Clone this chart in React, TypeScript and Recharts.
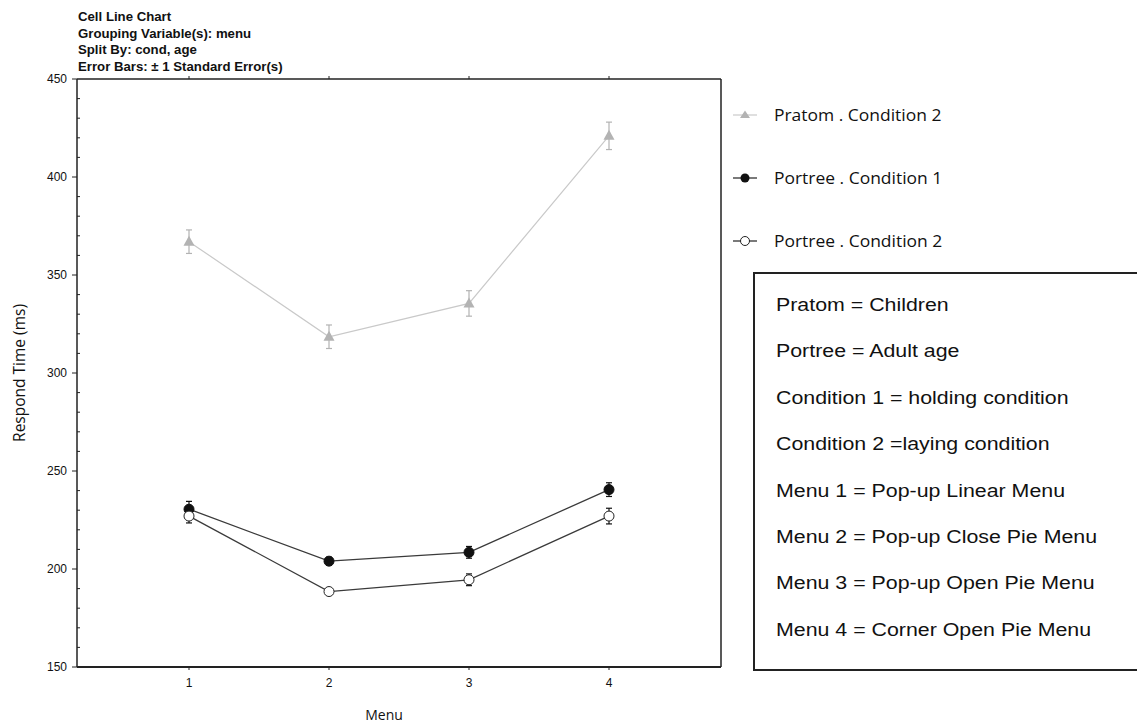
import { ComposedChart, Line, XAxis, YAxis, ErrorBar, Label } from "recharts"

// menu index on the x axis
const menus = [1, 2, 3, 4]

// mean respond time (ms) and standard error, per group
const pratomCond2 = [367, 318.5, 335.5, 421]
const pratomCond2Se = [6, 6, 6.5, 7]
const portreeCond1 = [230.5, 204, 208.5, 240.5]
const portreeCond1Se = [4, 2, 3, 3.5]
const portreeCond2 = [227, 188.5, 194.5, 227]
const portreeCond2Se = [3.5, 1.5, 3, 4]

const yLabels = [150, 200, 250, 300, 350, 400, 450]

const titleLines = [
  "Cell Line Chart",
  "Grouping Variable(s): menu",
  "Split By: cond, age",
  "Error Bars: ± 1 Standard Error(s)",
]

const legendNames = ["Pratom . Condition 2", "Portree . Condition 1", "Portree . Condition 2"]

const notes = [
  "Pratom = Children",
  "Portree = Adult age",
  "Condition 1 = holding condition",
  "Condition 2 =laying condition",
  "Menu 1 = Pop-up Linear Menu",
  "Menu 2 = Pop-up Close Pie Menu",
  "Menu 3 = Pop-up Open Pie Menu",
  "Menu 4 = Corner Open Pie Menu",
]

const data = menus.map((m, i) => ({
  menu: m,
  pratom: pratomCond2[i],
  pratomSe: pratomCond2Se[i],
  portree1: portreeCond1[i],
  portree1Se: portreeCond1Se[i],
  portree2: portreeCond2[i],
  portree2Se: portreeCond2Se[i],
}))

// every 10 ms gets a small tick, labels only on the 50s
const minorTicks: number[] = []
for (let v = 150; v <= 450; v += 10) minorTicks.push(v)

const AXIS = "#222"
const GREY_LINE = "#c9c9c9"
const GREY_MARK = "#b3b3b3"
const DARK_LINE = "#3a3a3a"
const tickFont = "'Liberation Sans', Arial, sans-serif"

const LeftTick = (props: any) => {
  const { x, y, payload } = props
  const major = yLabels.includes(payload.value)
  return (
    <g>
      {major ? (
        <>
          <line x1={x - 5} y1={y} x2={x} y2={y} stroke={AXIS} />
          <text x={x - 10} y={y} dy={4} textAnchor="end" fontSize={12} fontFamily={tickFont} fill="#111">
            {payload.value}
          </text>
        </>
      ) : (
        <line x1={x} y1={y} x2={x + 3} y2={y} stroke={AXIS} />
      )}
    </g>
  )
}

const RightTick = (props: any) => {
  const { x, y, payload } = props
  const major = yLabels.includes(payload.value)
  return <line x1={major ? x - 3 : x} y1={y} x2={x + 4} y2={y} stroke={AXIS} />
}

const BottomTick = (props: any) => {
  const { x, y, payload } = props
  return (
    <g>
      <line x1={x} y1={y} x2={x} y2={y + 3} stroke={AXIS} />
      <text x={x} y={y + 16} dy={4} textAnchor="middle" fontSize={12} fontFamily={tickFont} fill="#111">
        {payload.value}
      </text>
    </g>
  )
}

const TopTick = (props: any) => {
  const { x, y } = props
  return <line x1={x} y1={y} x2={x} y2={y - 3} stroke={AXIS} />
}

const Triangle = (props: any) => {
  const { cx, cy, index } = props
  if (cx == null || cy == null) return <g key={"t" + index} />
  return (
    <polygon
      key={"t" + index}
      points={`${cx},${cy - 6} ${cx - 5.5},${cy + 4} ${cx + 5.5},${cy + 4}`}
      fill={GREY_MARK}
    />
  )
}

const LegendMark = ({ kind }: { kind: number }) => (
  <svg width={30} height={14} style={{ display: "block" }}>
    <line x1={3} y1={7} x2={27} y2={7} stroke={kind === 0 ? GREY_LINE : "#222"} strokeWidth={1.2} />
    {kind === 0 && <polygon points="15,2.5 10,10 20,10" fill={GREY_MARK} />}
    {kind === 1 && <circle cx={15} cy={7} r={4.5} fill="#111" />}
    {kind === 2 && <circle cx={15} cy={7} r={4.5} fill="#fff" stroke="#222" strokeWidth={1} />}
  </svg>
)

export default function App() {
  return (
    <div style={{ position: "absolute", left: 0, top: 0, width: 1137, height: 723, background: "#fff", overflow: "hidden" }}>
      <div
        style={{
          position: "absolute",
          left: 78,
          top: 9,
          fontFamily: tickFont,
          fontWeight: 700,
          fontSize: 12,
          lineHeight: "16.7px",
          color: "#111",
          transform: "scaleX(1.1)",
          transformOrigin: "left top",
          whiteSpace: "nowrap",
        }}
      >
        {titleLines.map((t) => (
          <div key={t}>{t}</div>
        ))}
      </div>

      <ComposedChart width={1137} height={723} data={data} margin={{ top: 78, right: 406, bottom: 0, left: 17 }}>
        <XAxis
          xAxisId="bottom"
          dataKey="menu"
          type="number"
          domain={[0.2, 4.8]}
          ticks={menus}
          height={56}
          tickSize={0}
          tickMargin={0}
          tickLine={false}
          tick={<BottomTick />}
          axisLine={{ stroke: AXIS, strokeWidth: 2 }}
        >
          <Label value="Menu" position="insideBottom" offset={3} dx={-15} fontSize={14} fontFamily="'Open Sans', sans-serif" fill="#111" />
        </XAxis>
        <XAxis
          xAxisId="top"
          orientation="top"
          dataKey="menu"
          type="number"
          domain={[0.2, 4.8]}
          ticks={menus}
          height={1}
          tickSize={0}
          tickMargin={0}
          tickLine={false}
          tick={<TopTick />}
          axisLine={{ stroke: AXIS, strokeWidth: 1.5 }}
        />
        <YAxis
          yAxisId="left"
          domain={[150, 450]}
          ticks={minorTicks}
          interval={0}
          width={60}
          tickSize={0}
          tickMargin={0}
          tickLine={false}
          tick={<LeftTick />}
          axisLine={{ stroke: AXIS, strokeWidth: 1.5 }}
        >
          <Label
            value="Respond Time (ms)"
            angle={-90}
            position="insideLeft"
            offset={2}
            style={{ textAnchor: "middle" }}
            fontSize={15.5}
            fontFamily="'Open Sans', sans-serif"
            fill="#111"
          />
        </YAxis>
        <YAxis
          yAxisId="right"
          orientation="right"
          domain={[150, 450]}
          ticks={minorTicks}
          interval={0}
          width={10}
          tickSize={0}
          tickMargin={0}
          tickLine={false}
          tick={<RightTick />}
          axisLine={{ stroke: AXIS, strokeWidth: 1.5 }}
        />

        <Line
          xAxisId="bottom"
          yAxisId="left"
          dataKey="pratom"
          stroke={GREY_LINE}
          strokeWidth={1.2}
          dot={<Triangle />}
          activeDot={false}
          isAnimationActive={false}
        >
          <ErrorBar dataKey="pratomSe" direction="y" width={3} stroke={GREY_MARK} strokeWidth={1.2} />
        </Line>
        <Line
          xAxisId="bottom"
          yAxisId="left"
          dataKey="portree1"
          stroke={DARK_LINE}
          strokeWidth={1.3}
          dot={{ r: 5, fill: "#111", stroke: "#111", strokeWidth: 1 }}
          activeDot={false}
          isAnimationActive={false}
        >
          <ErrorBar dataKey="portree1Se" direction="y" width={3} stroke="#111" strokeWidth={1.2} />
        </Line>
        <Line
          xAxisId="bottom"
          yAxisId="left"
          dataKey="portree2"
          stroke={DARK_LINE}
          strokeWidth={1.3}
          dot={{ r: 5, fill: "#fff", stroke: "#222", strokeWidth: 1 }}
          activeDot={false}
          isAnimationActive={false}
        >
          <ErrorBar dataKey="portree2Se" direction="y" width={3} stroke="#111" strokeWidth={1.2} />
        </Line>
      </ComposedChart>

      {legendNames.map((name, i) => (
        <div
          key={name}
          style={{ position: "absolute", left: 730, top: 105 + i * 63, display: "flex", alignItems: "center", height: 20 }}
        >
          <LegendMark kind={i} />
          <span
            style={{
              marginLeft: 14,
              fontFamily: "'Open Sans', sans-serif",
              fontSize: 16,
              color: "#111",
              whiteSpace: "nowrap",
              display: "inline-block",
              transform: "scaleX(1.09)",
              transformOrigin: "left center",
            }}
          >
            {name}
          </span>
        </div>
      ))}

      <div
        style={{
          position: "absolute",
          left: 753,
          top: 272,
          width: 420,
          height: 399,
          border: "2px solid #222",
          boxSizing: "border-box",
          paddingTop: 8,
          paddingLeft: 21,
          fontFamily: tickFont,
          fontSize: 17.5,
          lineHeight: "46.4px",
          color: "#111",
        }}
      >
        {notes.map((n) => (
          <div
            key={n}
            style={{ whiteSpace: "nowrap", height: 46.4, transform: "scaleX(1.22)", transformOrigin: "left center" }}
          >
            {n}
          </div>
        ))}
      </div>
    </div>
  )
}
